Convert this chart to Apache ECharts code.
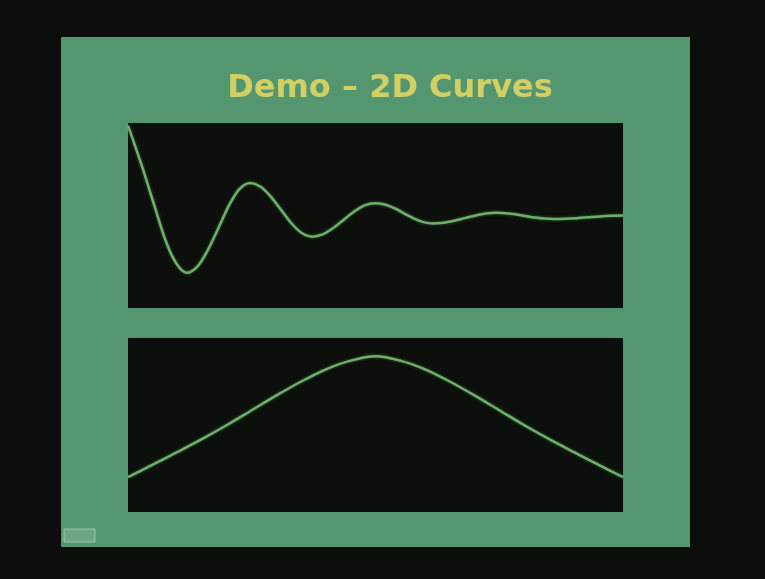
<!DOCTYPE html>
<html>
<head>
<meta charset="utf-8">
<title>Demo – 2D Curves</title>
<script src="https://cdn.jsdelivr.net/npm/echarts@6/dist/echarts.min.js"></script>
<style>
  html, body { margin: 0; padding: 0; background: #0b0d0b; }
  #chart { width: 765px; height: 579px; }
</style>
</head>
<body>
<div id="chart"></div>
<script>
// top plot: damped oscillation (x, y)
var topX = [0, 0.15, 0.3, 0.45, 0.6, 0.75, 0.9, 1.05,
  1.19, 1.4, 1.61, 1.83, 2.04, 2.25,
  2.46, 2.67, 2.88, 3.09, 3.3, 3.51,
  3.72, 3.93, 4.14, 4.355, 4.57, 4.78,
  4.99, 5.185, 5.38, 5.575, 5.77, 5.965,
  6.16, 6.375, 6.59, 6.805, 7.02, 7.235,
  7.45, 7.64, 7.83, 8.025, 8.22, 8.41,
  8.6, 8.83, 9.07, 9.3, 9.53, 9.77, 10]
var topY = [1.02, 0.78, 0.53, 0.26, -0.01, -0.27, -0.47, -0.6,
  -0.65, -0.58, -0.395, -0.14, 0.115, 0.3,
  0.37, 0.329, 0.218, 0.065, -0.088, -0.199,
  -0.24, -0.215, -0.145, -0.05, 0.045, 0.115,
  0.14, 0.125, 0.083, 0.025, -0.033, -0.075,
  -0.09, -0.082, -0.06, -0.03, 0, 0.022,
  0.03, 0.025, 0.013, -0.005, -0.023, -0.035,
  -0.04, -0.037, -0.03, -0.02, -0.01, -0.003, 0]

// bottom plot: bell shaped curve
var bottomX = [0, 0.5, 1, 1.5, 2, 2.5, 3, 3.5, 4, 4.5, 5, 5.5, 6, 6.5, 7, 7.5, 8, 8.5, 9, 9.5, 10]
var bottomY = [0.2, 0.272, 0.345, 0.42, 0.5, 0.585, 0.67, 0.75, 0.82, 0.87, 0.895,
  0.87, 0.82, 0.75, 0.67, 0.585, 0.5, 0.42, 0.345, 0.272, 0.2]

var titleText = 'Demo – 2D Curves'

function pairs(xs, ys) {
  return xs.map(function (x, i) { return [x, ys[i]] })
}

var myChart = echarts.init(document.getElementById('chart'))

var lineColor = '#6cb06a'

myChart.setOption({
  backgroundColor: '#0b0d0b',
  animation: false,
  graphic: [
    {
      // green slide panel
      type: 'rect',
      z: -10,
      shape: { x: 61, y: 37, width: 629, height: 510 },
      style: { fill: '#54966f' },
    },
    {
      type: 'text',
      z: 10,
      x: 390,
      y: 89,
      style: {
        text: titleText,
        fill: '#d2d064',
        font: 'bold 32px "DejaVu Sans"',
        align: 'center',
        verticalAlign: 'middle',
      },
    },
    {
      // little button in the corner
      type: 'rect',
      z: 10,
      shape: { x: 64, y: 529, width: 31, height: 13 },
      style: { fill: 'rgba(180,210,190,0.25)', stroke: 'rgba(200,225,205,0.6)', lineWidth: 1 },
    },
  ],
  grid: [
    {
      left: 128,
      top: 123,
      width: 495,
      height: 185,
      show: true,
      backgroundColor: '#0c0f0b',
      borderWidth: 0,
    },
    {
      left: 128,
      top: 338,
      width: 495,
      height: 174,
      show: true,
      backgroundColor: '#0c0f0b',
      borderWidth: 0,
    },
  ],
  xAxis: [
    { type: 'value', gridIndex: 0, min: 0, max: 10, show: false },
    { type: 'value', gridIndex: 1, min: 0, max: 10, show: false },
  ],
  yAxis: [
    { type: 'value', gridIndex: 0, min: -1.05, max: 1.05, show: false },
    { type: 'value', gridIndex: 1, min: 0, max: 1, show: false },
  ],
  series: [
    {
      type: 'line',
      xAxisIndex: 0,
      yAxisIndex: 0,
      data: pairs(topX, topY),
      smooth: 0.3,
      symbol: 'none',
      lineStyle: { color: lineColor, width: 2.5, shadowBlur: 3, shadowColor: 'rgba(110,180,105,0.5)' },
    },
    {
      type: 'line',
      xAxisIndex: 1,
      yAxisIndex: 1,
      data: pairs(bottomX, bottomY),
      smooth: 0.3,
      symbol: 'none',
      lineStyle: { color: lineColor, width: 2.5, shadowBlur: 3, shadowColor: 'rgba(110,180,105,0.5)' },
    },
  ],
})
</script>
</body>
</html>
